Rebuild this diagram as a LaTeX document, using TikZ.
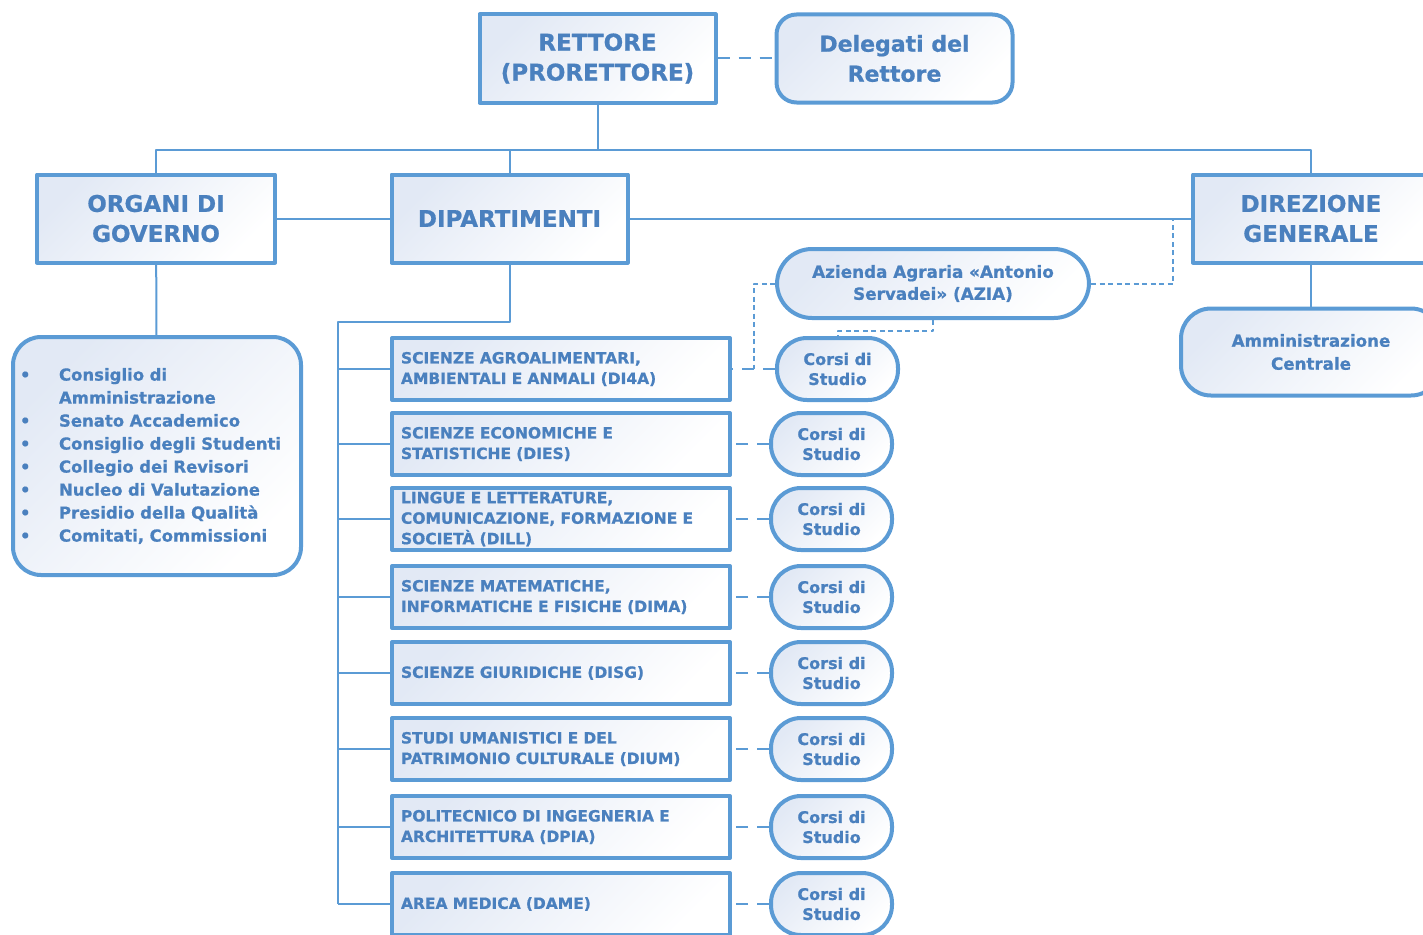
\documentclass[tikz,border=0pt]{standalone}
\usepackage{fontspec}
\setmainfont{DejaVu Sans}[BoldFeatures={FakeBold=0.8}]
\definecolor{bordo}{RGB}{91,155,213}
\definecolor{testo}{RGB}{74,128,190}
\definecolor{sfondo}{RGB}{226,233,245}
\newcommand{\voce}[1]{\makebox[39pt][l]{\textbullet}#1\\}
\begin{document}
\begin{tikzpicture}[x=1pt,y=-1pt,line join=round,
	scatola/.style={draw=bordo,line width=4pt,top color=sfondo,bottom color=white,shading angle=45,
		text=testo,font=\bfseries,align=center,inner sep=0pt},
	tonda/.style={scatola,rounded corners=#1},
	titolo/.style={scatola,minimum width=236pt,minimum height=88pt,font=\bfseries\fontsize{23}{30}\selectfont},
	dip/.style={scatola,minimum width=338pt,minimum height=62pt,text width=320pt,align=left,
		font=\bfseries\fontsize{15.5}{20.5}\selectfont},
	corsi/.style={tonda=30pt,minimum width=121pt,minimum height=62pt,font=\bfseries\fontsize{16}{20}\selectfont},
	linea/.style={draw=bordo,line width=2pt},
	tratto/.style={linea,dash pattern=on 12pt off 9pt},
	puntini/.style={linea,dash pattern=on 5pt off 3.5pt}]
	\useasboundingbox (0,0) rectangle (1423,934);
	% Vertice
	\node[titolo] (rettore) at (597.5,58.5) {RETTORE\\(PRORETTORE)};
	\node[titolo,tonda=20pt,font=\bfseries\fontsize{22}{30}\selectfont] (delegati) at (894.5,58.5) {Delegati del\\Rettore};
	% Secondo livello
	\node[titolo,minimum width=238pt] (organi) at (156,218.5) {ORGANI DI\\GOVERNO};
	\node[titolo] (dipartimenti) at (509.5,218.5) {DIPARTIMENTI};
	\node[titolo] (direzione) at (1311,218.5) {DIREZIONE\\GENERALE};
	\node[tonda=28pt,minimum width=288pt,minimum height=238pt,text width=274pt,align=left,
		font=\bfseries\fontsize{16.5}{23}\selectfont] (elenco) at (157,456) {%
		\voce{Consiglio di}
		\hspace*{39pt}Amministrazione\\
		\voce{Senato Accademico}
		\voce{Consiglio degli Studenti}
		\voce{Collegio dei Revisori}
		\voce{Nucleo di Valutazione}
		\voce{Presidio della Qualità}
		\makebox[39pt][l]{\textbullet}Comitati, Commissioni};
	\node[tonda=35pt,minimum width=312pt,minimum height=69pt,font=\bfseries\fontsize{16.8}{22}\selectfont]
		(azienda) at (933,283.5) {Azienda Agraria «Antonio\\Servadei» (AZIA)};
	\node[tonda=30pt,minimum width=260pt,minimum height=87pt,font=\bfseries\fontsize{16.7}{23}\selectfont]
		(ammin) at (1311,352) {Amministrazione\\Centrale};
	% Collegamenti
	\coordinate (snodo) at (597.5,150);
	\coordinate (spina) at (338,322);
	\draw[linea] (rettore) -- (snodo);
	\draw[linea] (organi.north) |- (snodo) -| (direzione.north);
	\draw[linea] (dipartimenti.north) -- (dipartimenti.north |- snodo);
	\draw[linea] (organi) -- (dipartimenti) -- (direzione);
	\draw[linea] (organi) -- (elenco);
	\draw[linea] (direzione) -- (ammin);
	\draw[tratto] (rettore) -- (delegati);
	% Dipartimenti e corsi di studio
	\foreach \y/\cx/\txt [count=\i] in {
		369/837.5/{SCIENZE AGROALIMENTARI,\\AMBIENTALI E ANMALI (DI4A)},
		444/831.5/{SCIENZE ECONOMICHE E\\STATISTICHE (DIES)},
		519/831.5/{LINGUE E LETTERATURE,\\COMUNICAZIONE, FORMAZIONE E\\SOCIETÀ (DILL)},
		597/831.5/{SCIENZE MATEMATICHE,\\INFORMATICHE E FISICHE (DIMA)},
		673/831.5/{SCIENZE GIURIDICHE (DISG)},
		749/831.5/{STUDI UMANISTICI E DEL\\PATRIMONIO CULTURALE (DIUM)},
		827/831.5/{POLITECNICO DI INGEGNERIA E\\ARCHITETTURA (DPIA)},
		904/831.5/{AREA MEDICA (DAME)}}{
		\node[dip] (dip\i) at (561,\y) {\txt};
		\node[corsi] (corsi\i) at (\cx,\y) {Corsi di\\Studio};
		\draw[linea] (spina |- dip\i) -- (dip\i.west);
		\draw[tratto] (corsi\i) -- (dip\i);
	}
	\draw[linea] (dipartimenti.south) |- (spina) -- (spina |- dip8);
	% Azienda agraria
	\coordinate (giunto) at (754,369);
	\coordinate (incrocio) at (1173,218.5);
	\draw[puntini] (azienda.west) -| (giunto);
	\draw[puntini] (azienda.east) -| (incrocio);
	\draw[puntini] (azienda.south) -- ++(0,11) -| (corsi1.north);
\end{tikzpicture}
\end{document}
